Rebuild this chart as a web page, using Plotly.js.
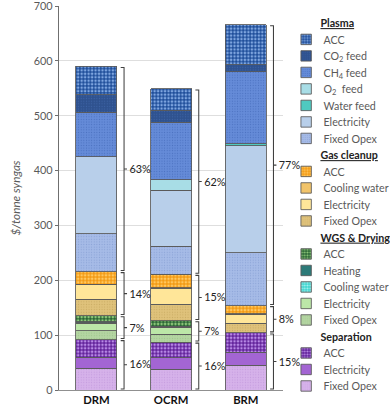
<!DOCTYPE html>
<html>
<head>
<meta charset="utf-8">
<script src="https://cdn.plot.ly/plotly-3.0.1.min.js"></script>
<style>
html, body { margin: 0; padding: 0; background: #fff; overflow: hidden; }
#wrap { width: 390px; height: 410px; overflow: hidden; }
#plot { width: 480px; height: 472px; transform: scale(0.8686); transform-origin: 0 0; }
</style>
</head>
<body>
<div id="wrap"><div id="plot"></div></div>
<script>
// categories
const cats = ['DRM', 'OCRM', 'BRM'];

// Separation ($/tonne syngas)
const sepFixed = [40, 38, 45.5];
const sepElec = [20, 20.5, 23.5];
const sepAcc = [32, 29, 35];

// WGS & Drying
const wgsFixed = [16, 14, 0];
const wgsElec = [14, 12, 0];
const wgsCool = [1, 1, 0];
const wgsHeat = [1.5, 1.5, 0];
const wgsAcc = [11, 10.5, 0];

// Gas cleanup
const gcFixed = [30, 30, 18];
const gcElec = [26.5, 29, 16.5];
const gcCool = [1, 1, 0.5];
const gcAcc = [23, 24.5, 15];

// Plasma
const plFixed = [69, 51.5, 96.5];
const plElec = [140, 101.5, 194.5];
const plWater = [0, 0, 4];
const plO2 = [0, 19.5, 0];
const plCH4 = [81, 105, 131];
const plCO2 = [32, 21.5, 13];
const plAcc = [52, 39, 73];

// bracket labels
const sepPct = ['16%', '16%', '15%'];
const wgsPct = ['7%', '7%', ''];
const gcPct = ['14%', '15%', '8%'];
const plPct = ['63%', '62%', '77%'];

const FONT = 'Lato, "Open Sans", sans-serif';
const LEGFONT = 12.3;
const indent = '\u00A0'.repeat(10);

function bar(name, grp, gtitle, y, color, pat, fg) {
    let pattern = { shape: '' };
    if (pat === 'acc') pattern = { shape: '.', size: 4, solidity: 0.42, fgcolor: fg, bgcolor: color, fillmode: 'replace' };
    if (pat === 'dot') pattern = { shape: '.', size: 3, solidity: 0.15, fgcolor: fg, bgcolor: color, fillmode: 'replace' };
    return {
        type: 'bar',
        name: name,
        x: cats,
        y: y,
        width: 0.55,
        legendgroup: grp,
        legendgrouptitle: { text: indent + gtitle, font: { family: FONT, size: LEGFONT, color: '#222' } },
        marker: { color: color, pattern: pattern, line: { color: '#5a5a5a', width: 1 } },
        hoverinfo: 'skip'
    };
}

const tS = '<b>Separation</b>';
const tW = '<b><u>WGS &amp; Drying</u></b>';
const tG = '<b><u>Gas cleanup</u></b>';
const tP = '<b><u>Plasma</u></b>';

let traces = [
    bar('Fixed Opex', 'sep', tS, sepFixed, '#d6b2ea', 'dot', '#c49ade'),
    bar('Electricity', 'sep', tS, sepElec, '#a365d3'),
    bar('ACC', 'sep', tS, sepAcc, '#62229a', 'acc', '#b88ae6'),
    bar('Fixed Opex', 'wgs', tW, wgsFixed, '#b4d5a2', 'dot', '#9cc48a'),
    bar('Electricity', 'wgs', tW, wgsElec, '#bce7a8'),
    bar('Cooling water', 'wgs', tW, wgsCool, '#3fd4cf', 'acc', '#a8f2f0'),
    bar('Heating', 'wgs', tW, wgsHeat, '#2c7a78'),
    bar('ACC', 'wgs', tW, wgsAcc, '#2a6535', 'acc', '#8fc87a'),
    bar('Fixed Opex', 'gc', tG, gcFixed, '#dfc27b', 'dot', '#c9ab62'),
    bar('Electricity', 'gc', tG, gcElec, '#ffe699'),
    bar('Cooling water', 'gc', tG, gcCool, '#f2c46a'),
    bar('ACC', 'gc', tG, gcAcc, '#f39a14', 'acc', '#ffc860'),
    bar('Fixed Opex', 'pl', tP, plFixed, '#a6bbe7', 'dot', '#8aa2d6'),
    bar('Electricity', 'pl', tP, plElec, '#b8cfea'),
    bar('Water feed', 'pl', tP, plWater, '#4fc9c0'),
    bar('O<sub>2</sub>  feed', 'pl', tP, plO2, '#a8dde6'),
    bar('CH<sub>4</sub> feed', 'pl', tP, plCH4, '#658bd8', 'dot', '#4a70bf'),
    bar('CO<sub>2</sub> feed', 'pl', tP, plCO2, '#2f528f', 'dot', '#3f65a8'),
    bar('ACC', 'pl', tP, plAcc, '#1f4e9a', 'acc', '#7fa6e0')
];
// top of the stack comes first in the legend
traces.forEach((t, k) => { t.legendrank = traces.length - k; });

// brackets with share labels, from the stacked sums
const groups = [
    { arrs: [sepFixed, sepElec, sepAcc], pct: sepPct },
    { arrs: [wgsFixed, wgsElec, wgsCool, wgsHeat, wgsAcc], pct: wgsPct },
    { arrs: [gcFixed, gcElec, gcCool, gcAcc], pct: gcPct },
    { arrs: [plFixed, plElec, plWater, plO2, plCH4, plCO2, plAcc], pct: plPct }
];

let shapes = [];
let annotations = [];
cats.forEach((c, i) => {
    let base = 0;
    groups.forEach(g => {
        let sum = g.arrs.reduce((s, a) => s + a[i], 0);
        if (sum <= 0) return;
        let lo = base + 2, hi = base + sum - 2, mid = base + sum / 2;
        let xb = i + 0.37;
        shapes.push({
            type: 'path', xref: 'x2', yref: 'y',
            path: `M${xb - 0.045},${hi} L${xb},${hi} L${xb},${lo} L${xb - 0.045},${lo} M${xb},${mid} L${xb + 0.04},${mid}`,
            line: { color: '#404040', width: 1.2 }
        });
        annotations.push({
            xref: 'x2', yref: 'y', x: xb + 0.045, y: mid, xanchor: 'left', yanchor: 'middle',
            text: g.pct[i], showarrow: false,
            font: { family: FONT, size: 12.5, color: '#222' }
        });
        base += sum;
    });
});

// figure is wider than the visible window so the legend never pushes the margins
let layout = {
    width: 480,
    height: 472,
    barmode: 'stack',
    paper_bgcolor: '#fff',
    plot_bgcolor: '#fff',
    margin: { l: 68, r: 154.4, t: 7, b: 23 },
    font: { family: FONT },
    showlegend: true,
    legend: {
        x: 1.025, xanchor: 'left', y: 0.989, yanchor: 'top',
        traceorder: 'grouped', tracegroupgap: 0,
        font: { family: FONT, size: LEGFONT, color: '#595959' },
        bgcolor: 'rgba(0,0,0,0)'
    },
    xaxis: {
        type: 'category', range: [-0.5, 2.5],
        showline: true, linecolor: '#7f7f7f', linewidth: 1,
        ticks: '', automargin: false,
        tickfont: { family: FONT, size: 13, color: '#111', weight: 'bold' }
    },
    xaxis2: { overlaying: 'x', range: [-0.5, 2.5], visible: false, type: 'linear' },
    yaxis: {
        range: [0, 700], dtick: 100,
        showline: true, linecolor: '#595959', linewidth: 1,
        ticks: 'outside', ticklen: 4, tickcolor: '#595959',
        gridcolor: '#d9d9d9', zeroline: false, automargin: false,
        ticklabeloverflow: 'allow',
        tickfont: { family: FONT, size: 12.5, color: '#595959' },
        title: { text: '$/tonne syngas', standoff: 12, font: { family: FONT, size: 13.5, color: '#595959', style: 'italic' } }
    },
    shapes: shapes,
    annotations: annotations
};

Plotly.newPlot(document.getElementById('plot'), traces, layout, { displayModeBar: false, staticPlot: true });
</script>
</body>
</html>
